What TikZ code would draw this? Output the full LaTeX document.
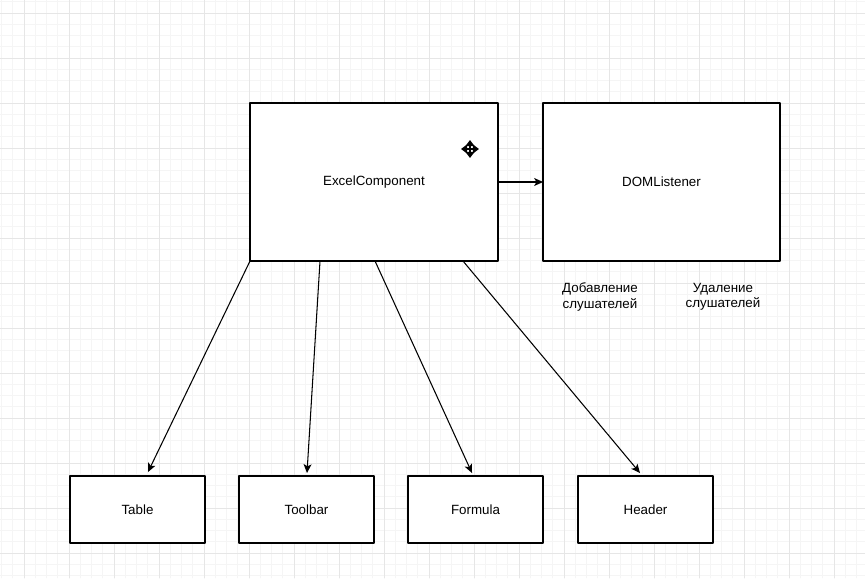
\documentclass[tikz,border=0pt]{standalone}
\usepackage{fontspec}
\setmainfont{Liberation Sans}
\usetikzlibrary{arrows.meta}

\definecolor{gridminor}{HTML}{F5F5F5}
\definecolor{gridmajor}{HTML}{E6E6E6}

\tikzset{
  compbox/.style={draw=black, fill=white, line width=0.65pt, inner sep=0pt, outer sep=0pt,
    font=\fontsize{7.6}{9}\selectfont},
  bigbox/.style={compbox, minimum width=4.96cm, minimum height=3.16cm},
  smallbox/.style={compbox, minimum width=2.7cm, minimum height=1.34cm},
  link/.style={line width=0.6pt, -{Stealth[length=5pt,width=4.5pt,inset=1.2pt]}},
  note/.style={align=center, font=\fontsize{7.6}{8.6}\selectfont}
}

\begin{document}
\begin{tikzpicture}[line cap=round,line join=round,x=0.02cm,y=-0.02cm]
  \useasboundingbox (0,0) rectangle (865,578);
  % background grid
  \foreach \i in {0,...,76} \draw[gridminor, line width=0.4pt] ({1.5+11.25*\i},0) -- ++(0,578);
  \foreach \j in {0,...,51} \draw[gridminor, line width=0.4pt] (0,{1.75+11.25*\j}) -- ++(865,0);
  \foreach \i in {0,...,18} \draw[gridmajor, line width=0.5pt] ({24+45*\i},0) -- ++(0,578);
  \foreach \j in {0,...,12} \draw[gridmajor, line width=0.5pt] (0,{13+45*\j}) -- ++(865,0);

  % components
  \node[bigbox] (excel) at (374,182) {\raisebox{-2pt}{ExcelComponent}};
  \node[bigbox, minimum width=4.74cm] (dom) at (661.5,182) {\raisebox{-2pt}{DOMListener}};
  \node[smallbox] (table) at (137.5,509.5) {Table};
  \node[smallbox] (toolbar) at (306.5,509.5) {Toolbar};
  \node[smallbox] (formula) at (475.5,509.5) {Formula};
  \node[smallbox] (header) at (645.5,509.5) {Header};

  \node[note] (add) at (600,297) {Добавление\\слушателей};
  \node[note] (remove) at (723,297) {Удаление\\слушателей};

  % connectors
  \draw[link] (excel.east) -- (dom.west);
  \draw[link] (excel.south west) -- ([xshift=0.21cm,yshift=0.08cm]table.north);
  \draw[link] ([xshift=1.4cm]excel.south west) -- ([xshift=0.01cm,yshift=0.06cm]toolbar.north);
  \draw[link] ([xshift=2.5cm]excel.south west) -- ([xshift=-0.07cm,yshift=0.06cm]formula.north);
  \draw[link] ([xshift=4.26cm]excel.south west) -- ([xshift=-0.11cm,yshift=0.06cm]header.north);

  % move cursor
  \draw[line width=1.1pt, {Triangle[length=3.5pt,width=5pt]}-{Triangle[length=3.5pt,width=5pt]}] (461,149) -- (479,149);
  \draw[line width=1.1pt, {Triangle[length=3.5pt,width=5pt]}-{Triangle[length=3.5pt,width=5pt]}] (470,140) -- (470,158);
\end{tikzpicture}
\end{document}
